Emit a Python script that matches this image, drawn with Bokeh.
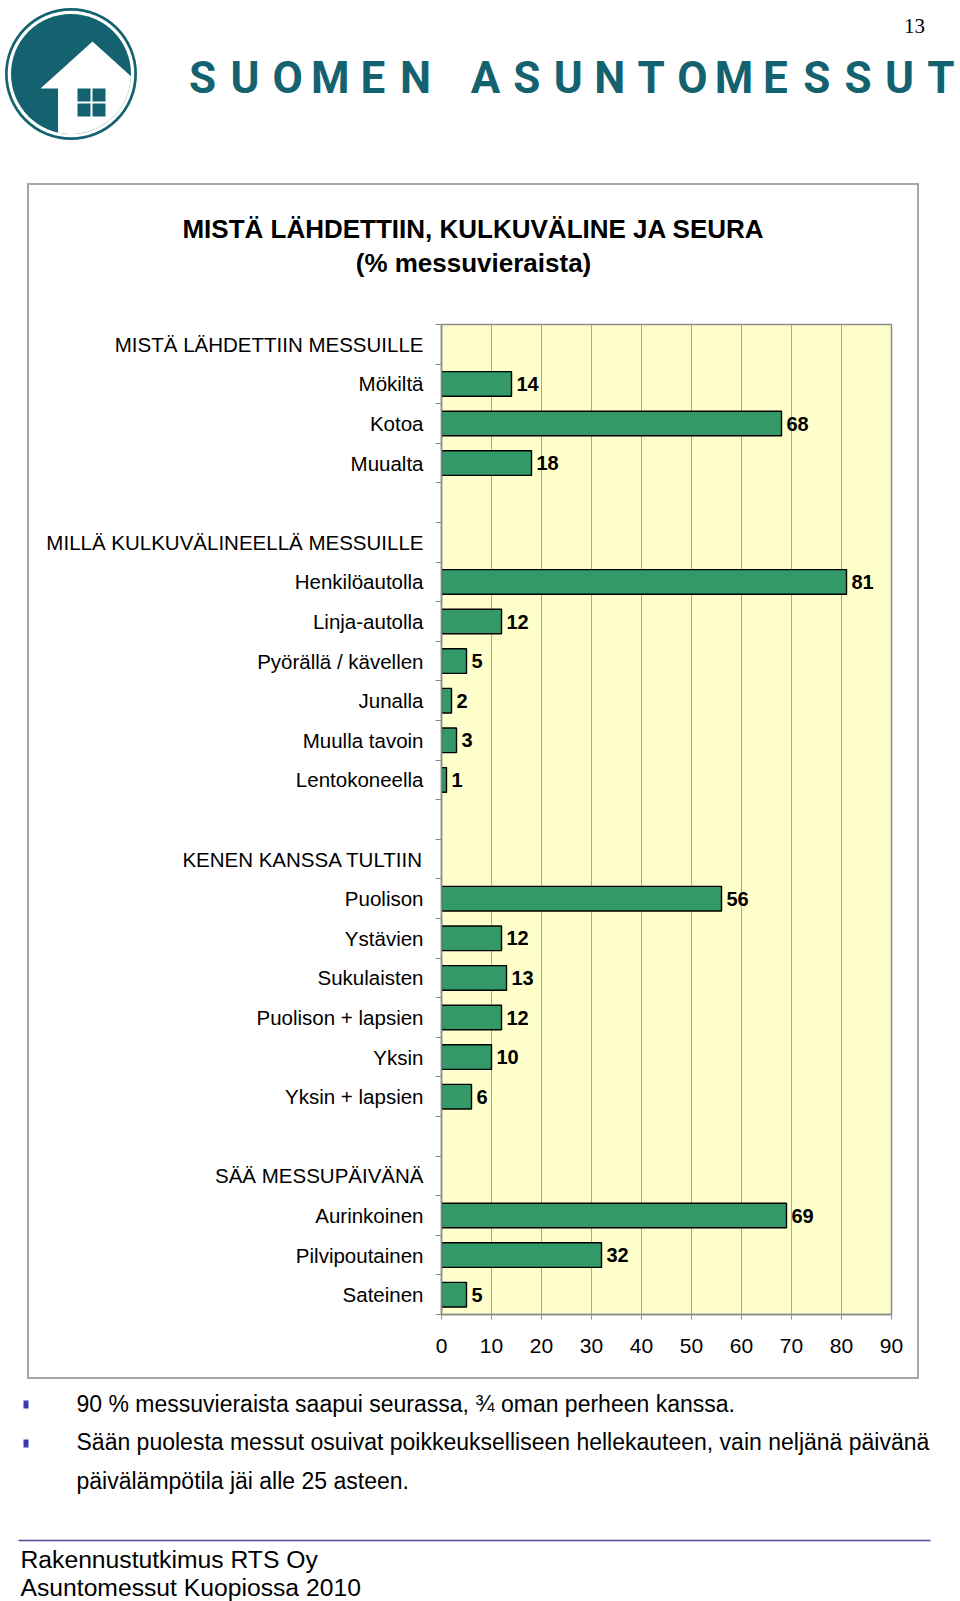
import numpy as np
from bokeh.plotting import figure
from bokeh.layouts import column, row
from bokeh.models import Range1d, FixedTicker, Spacer, ColumnDataSource
from bokeh.core.properties import value
from bokeh.embed import file_html
from bokeh.resources import INLINE

# ---------------- data ----------------
group_titles = ["MISTÄ LÄHDETTIIN MESSUILLE", "MILLÄ KULKUVÄLINEELLÄ MESSUILLE",
                "KENEN KANSSA TULTIIN", "SÄÄ MESSUPÄIVÄNÄ"]
origin_labels = ["Mökiltä", "Kotoa", "Muualta"]
origin_values = [14, 68, 18]
transport_labels = ["Henkilöautolla", "Linja-autolla", "Pyörällä / kävellen",
                    "Junalla", "Muulla tavoin", "Lentokoneella"]
transport_values = [81, 12, 5, 2, 3, 1]
company_labels = ["Puolison", "Ystävien", "Sukulaisten", "Puolison + lapsien",
                  "Yksin", "Yksin + lapsien"]
company_values = [56, 12, 13, 12, 10, 6]
weather_labels = ["Aurinkoinen", "Pilvipoutainen", "Sateinen"]
weather_values = [69, 32, 5]
x_ticks = [0, 10, 20, 30, 40, 50, 60, 70, 80, 90]

chart_title_1 = "MISTÄ LÄHDETTIIN, KULKUVÄLINE JA SEURA"
chart_title_2 = "(% messuvieraista)"
bullet_lines = ["90 % messuvieraista saapui seurassa, ¾ oman perheen kanssa.",
                "Sään puolesta messut osuivat poikkeukselliseen hellekauteen, vain neljänä päivänä",
                "päivälämpötila jäi alle 25 asteen."]
footer_lines = ["Rakennustutkimus RTS Oy", "Asuntomessut Kuopiossa 2010"]
brand = "SUOMEN ASUNTOMESSUT"
page_no = "13"

TEAL = "#14626F"
FONT = "Liberation Sans"
BORDER = "#a6a6a6"

# ---------------- rows ----------------
groups = [(origin_labels, origin_values), (transport_labels, transport_values),
          (company_labels, company_values), (weather_labels, weather_values)]
row_labels, bar_rows, bar_values = [], [], []
for gi, (title, (labs, vals)) in enumerate(zip(group_titles, groups)):
    row_labels.append(title)
    for lab, v in zip(labs, vals):
        row_labels.append(lab)
        bar_rows.append(len(row_labels) - 1)
        bar_values.append(v)
    if gi < len(groups) - 1:
        row_labels.append("")
N = len(row_labels)
centers = [N - i - 0.5 for i in range(N)]
bounds = [float(k) for k in range(N + 1)]

src = ColumnDataSource(dict(
    y=[centers[i] for i in bar_rows],
    v=bar_values,
    t=[str(v) for v in bar_values],
))


def blank_fig(w, h):
    f = figure(width=w, height=h, x_range=Range1d(0, w), y_range=Range1d(h, 0),
               output_backend="svg", toolbar_location=None, min_border=0,
               x_axis_type=None, y_axis_type=None)
    f.grid.visible = False
    f.outline_line_color = None
    f.background_fill_color = "white"
    f.border_fill_color = "white"
    return f


# ---------------- header ----------------
header = blank_fig(960, 183)
cx, cy = 70.5, 73.5
header.circle(x=[cx], y=[cy], radius=66, fill_color=TEAL, line_color=None)
header.circle(x=[cx], y=[cy], radius=63.3, fill_color="white", line_color=None)
r_in = 60.0
header.circle(x=[cx], y=[cy], radius=r_in, fill_color=TEAL, line_color=None)

apex = np.array([92.0, 41.0])
eave = np.array([40.0, 88.0])
wall_x = 57.5
d = np.array([apex[0] - eave[0], eave[1] - apex[1]])
p0 = apex - np.array([cx, cy])
a = d @ d
b = 2 * (p0 @ d)
c = p0 @ p0 - r_in ** 2
t = (-b + np.sqrt(b * b - 4 * a * c)) / (2 * a)
P1 = apex + t * d
P2 = np.array([wall_x, cy + np.sqrt(r_in ** 2 - (wall_x - cx) ** 2)])
th1 = np.arctan2(P1[1] - cy, P1[0] - cx)
th2 = np.arctan2(P2[1] - cy, P2[0] - cx)
ths = np.linspace(th1, th2, 60)
hx = [apex[0]] + list(cx + r_in * np.cos(ths)) + [wall_x, wall_x, eave[0]]
hy = [apex[1]] + list(cy + r_in * np.sin(ths)) + [P2[1], eave[1], eave[1]]
header.patch(hx, hy, fill_color="white", line_color=None)
header.quad(left=[77, 92, 77, 92], right=[90, 105, 90, 105],
            top=[88, 88, 103, 103], bottom=[101, 101, 116, 116],
            fill_color=TEAL, line_color=None)

letters = [ch for ch in brand if ch != " "]
lx = [202 + 42.6 * k for k in range(6)] + [485 + 41.4 * k for k in range(12)]
header.text(x=lx, y=[77] * len(letters), text=letters, text_align="center",
            text_baseline="middle", text_font=value("Roboto"), text_font_style="bold",
            text_font_size="44px", text_color=TEAL)
header.text(x=[914], y=[25], text=[page_no], text_align="center", text_baseline="middle",
            text_font=value("Liberation Serif"), text_font_size="21px", text_color="black")

# ---------------- chart title ----------------
title_fig = blank_fig(888, 115)
title_fig.text(x=[444, 444], y=[43, 77], text=[chart_title_1, chart_title_2],
               text_align="center", text_baseline="middle", text_font=value(FONT),
               text_font_style="bold", text_font_size="26px", text_color="black")

# ---------------- chart ----------------
chart = figure(width=888, height=1077, x_range=Range1d(0, 90), y_range=Range1d(0, N),
               output_backend="svg", toolbar_location=None,
               min_border_left=412, min_border_right=26, min_border_top=24,
               min_border_bottom=63)
chart.background_fill_color = "#FFFFCC"
chart.border_fill_color = "white"
chart.outline_line_color = "#8c8c8c"
chart.outline_line_width = 1.5

chart.hbar(y="y", right="v", left=0, height=0.62, source=src,
           fill_color="#339966", line_color="black", line_width=1.4)
chart.text(x="v", y="y", text="t", source=src, x_offset=5, text_baseline="middle",
           text_font=value(FONT), text_font_style="bold", text_font_size="20px",
           text_color="black")

yax = chart.yaxis[0]
yax.ticker = FixedTicker(ticks=centers, minor_ticks=bounds)
yax.major_label_overrides = {c: lab for c, lab in zip(centers, row_labels)}
yax.axis_line_color = "#8c8c8c"
yax.axis_line_width = 1.5
yax.major_tick_line_color = None
yax.major_tick_out = 0
yax.major_tick_in = 0
yax.minor_tick_line_color = "#8c8c8c"
yax.minor_tick_out = 6
yax.minor_tick_in = 0
yax.major_label_standoff = 12
yax.major_label_text_font = FONT
yax.major_label_text_font_size = "20.5px"
yax.major_label_text_color = "black"

xax = chart.xaxis[0]
xax.ticker = FixedTicker(ticks=x_ticks)
xax.axis_line_color = "#8c8c8c"
xax.axis_line_width = 1.5
xax.major_tick_line_color = "#8c8c8c"
xax.major_tick_out = 5
xax.major_tick_in = 0
xax.minor_tick_line_color = None
xax.major_label_standoff = 19
xax.major_label_text_font = FONT
xax.major_label_text_font_size = "21px"
xax.major_label_text_color = "black"

chart.xgrid.ticker = FixedTicker(ticks=x_ticks)
chart.xgrid.grid_line_color = "#a9a99a"
chart.xgrid.grid_line_width = 1
chart.ygrid.grid_line_color = None


def edge(w, h):
    return Spacer(width=w, height=h, margin=0, styles={"background-color": BORDER})


inner = column(row(title_fig), row(chart))
box = column(edge(892, 2),
             row(edge(2, 1192), inner, edge(2, 1192)),
             edge(892, 2))

# ---------------- footer ----------------
footer = blank_fig(960, 222)
footer.quad(left=[23, 23], right=[28, 28], top=[21, 60], bottom=[29, 68],
            fill_color="#3a3ab0", line_color=None)
footer.text(x=[76, 76, 76], y=[24, 62, 101], text=bullet_lines, text_baseline="middle",
            text_font=value(FONT), text_font_size="23px", text_color="black")
footer.line(x=[18, 930], y=[161, 161], line_color="#4d4d99", line_width=1.5)
footer.text(x=[20, 20], y=[180, 208], text=footer_lines, text_baseline="middle",
            text_font=value(FONT), text_font_size="24.7px", text_color="black")

layout = column(header, row(Spacer(width=27, height=1196), box), footer)
open("out.html", "w").write(file_html(layout, INLINE))
